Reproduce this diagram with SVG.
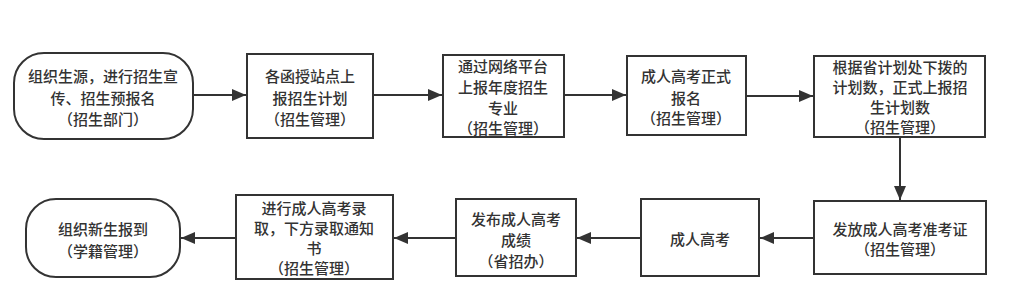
<svg xmlns="http://www.w3.org/2000/svg" width="1013" height="301" viewBox="0 0 1013 301">
<defs>
<style>
.box{fill:#fff;stroke:#333;stroke-width:2}
.t{font-family:"Noto Sans CJK SC","Noto Sans",sans-serif;font-size:15px;font-weight:500;fill:#333;text-anchor:middle;dominant-baseline:central}
.c{stroke:#333;stroke-width:2;fill:none}
</style>
<marker id="ah" markerUnits="userSpaceOnUse" markerWidth="14" markerHeight="12" viewBox="0 0 14 12" refX="14" refY="6" orient="auto">
<path d="M0,0 L14,6 L0,12 Z" fill="#333"/>
</marker>
</defs>
<rect width="1013" height="301" fill="#fff"/>
<g id="connectors">
<line class="c" x1="193" y1="95" x2="246" y2="95" marker-end="url(#ah)"/>
<line class="c" x1="373" y1="95" x2="442" y2="95" marker-end="url(#ah)"/>
<line class="c" x1="564" y1="95" x2="626" y2="95" marker-end="url(#ah)"/>
<line class="c" x1="746" y1="96" x2="813" y2="96" marker-end="url(#ah)"/>
<line class="c" x1="900" y1="137" x2="900" y2="200" marker-end="url(#ah)"/>
<line class="c" x1="814" y1="238" x2="760" y2="238" marker-end="url(#ah)"/>
<line class="c" x1="641" y1="238" x2="577" y2="238" marker-end="url(#ah)"/>
<line class="c" x1="456" y1="238" x2="394" y2="238" marker-end="url(#ah)"/>
<line class="c" x1="236" y1="238" x2="181" y2="238" marker-end="url(#ah)"/>
</g>
<g id="n1">
<rect class="box" x="14" y="53" width="179" height="86" rx="30" ry="30"/>
<text class="t" x="103" y="75">组织生源，进行招生宣</text>
<text class="t" x="103" y="97">传、招生预报名</text>
<text class="t" x="103" y="118">（招生部门）</text>
</g>
<g id="n2">
<rect class="box" x="247" y="54" width="126" height="84"/>
<text class="t" x="310" y="75">各函授站点上</text>
<text class="t" x="310" y="97">报招生计划</text>
<text class="t" x="310" y="118">（招生管理）</text>
</g>
<g id="n3">
<rect class="box" x="443" y="55" width="121" height="82"/>
<text class="t" x="503" y="65">通过网络平台</text>
<text class="t" x="503" y="86">上报年度招生</text>
<text class="t" x="503" y="107">专业</text>
<text class="t" x="503" y="127">（招生管理）</text>
</g>
<g id="n4">
<rect class="box" x="627" y="56" width="119" height="79"/>
<text class="t" x="686" y="75">成人高考正式</text>
<text class="t" x="686" y="97">报名</text>
<text class="t" x="686" y="117">（招生管理）</text>
</g>
<g id="n5">
<rect class="box" x="814" y="56" width="171" height="81"/>
<text class="t" x="900" y="66">根据省计划处下拨的</text>
<text class="t" x="900" y="86">计划数，正式上报招</text>
<text class="t" x="900" y="106">生计划数</text>
<text class="t" x="900" y="126">（招生管理）</text>
</g>
<g id="n6">
<rect class="box" x="814" y="201" width="172" height="73"/>
<text class="t" x="900" y="228">发放成人高考准考证</text>
<text class="t" x="900" y="248">（招生管理）</text>
</g>
<g id="n7">
<rect class="box" x="641" y="199" width="118" height="77"/>
<text class="t" x="700" y="238">成人高考</text>
</g>
<g id="n8">
<rect class="box" x="456" y="199" width="120" height="77"/>
<text class="t" x="516" y="218">发布成人高考</text>
<text class="t" x="516" y="239">成绩</text>
<text class="t" x="516" y="260">（省招办）</text>
</g>
<g id="n9">
<rect class="box" x="236" y="195" width="157" height="84"/>
<text class="t" x="314" y="207">进行成人高考录</text>
<text class="t" x="314" y="227">取，下方录取通知</text>
<text class="t" x="314" y="247">书</text>
<text class="t" x="314" y="267">（招生管理）</text>
</g>
<g id="n10">
<rect class="box" x="26" y="199" width="154" height="78" rx="30" ry="30"/>
<text class="t" x="103" y="228">组织新生报到</text>
<text class="t" x="103" y="250">（学籍管理）</text>
</g>
</svg>
